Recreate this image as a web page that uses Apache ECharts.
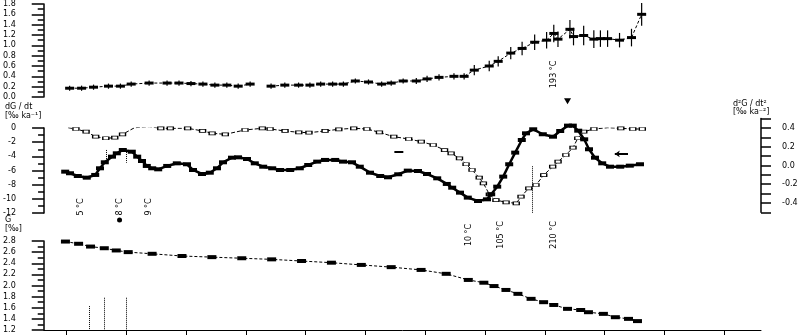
<!DOCTYPE html>
<html><head><meta charset="utf-8">
<script src="https://cdn.jsdelivr.net/npm/echarts@6/dist/echarts.min.js"></script>
<style>html,body{margin:0;padding:0;background:#fff}#c{width:809px;height:335px}</style>
</head><body><div id="c"></div>
<script>
// ---------- data ----------
const xTicks = [0,1,2,3,4,5,6,7,8,9,10,11];

const topX   = [0.05,0.25,0.45,0.70,0.90,1.08,1.38,1.68,1.88,2.08,2.28,2.48,2.68,2.87,3.07,3.25,3.42,3.65,3.88,4.07,4.25,4.45,4.63,4.83,5.05,5.27,5.43,5.63,5.85,6.03,6.23,6.48,6.65,6.82,7.07,7.22,7.43,7.62,7.83,8.03,8.15,8.22,8.42,8.48,8.65,8.82,8.93,9.05,9.25,9.45,9.62];
const topY   = [0.17,0.17,0.19,0.21,0.21,0.25,0.27,0.27,0.27,0.26,0.25,0.23,0.23,0.21,0.25,null,0.21,0.23,0.23,0.23,0.25,0.25,0.25,0.31,0.29,0.25,0.27,0.31,0.31,0.35,0.38,0.40,0.40,0.52,0.60,0.69,0.85,0.94,1.06,1.10,1.23,1.12,1.31,1.17,1.19,1.12,1.13,1.13,1.10,1.15,1.60];
const topErr = [0.05,0.05,0.05,0.05,0.05,0.05,0.05,0.05,0.05,0.05,0.05,0.05,0.05,0.05,0.05,null,0.05,0.05,0.05,0.05,0.05,0.05,0.05,0.05,0.05,0.05,0.05,0.05,0.06,0.06,0.06,0.06,0.06,0.10,0.10,0.10,0.12,0.13,0.15,0.16,0.17,0.15,0.18,0.17,0.19,0.17,0.16,0.16,0.14,0.17,0.22];

const rateX = [0.02,0.15,0.32,0.48,0.65,0.80,0.93,1.13,1.38,1.57,1.73,2.02,2.27,2.43,2.65,2.98,3.27,3.40,3.65,3.88,4.05,4.32,4.55,4.80,5.02,5.23,5.47,5.72,5.93,6.13,6.32,6.43,6.57,6.68,6.78,6.90,6.97,7.07,7.18,7.35,7.52,7.60,7.73,7.85,7.98,8.13,8.22,8.35,8.47,8.55,8.65,8.82,9.05,9.27,9.47,9.63];
const rateY = [0.04,-0.14,-0.52,-1.23,-1.45,-1.37,-0.89,0.04,0.18,-0.04,-0.04,-0.04,-0.42,-0.75,-0.89,-0.28,-0.04,-0.14,-0.42,-0.61,-0.66,-0.42,-0.18,-0.04,-0.14,-0.61,-1.23,-1.55,-1.93,-2.40,-3.11,-3.57,-4.28,-5.12,-5.93,-7.02,-7.81,-9.36,-10.17,-10.49,-10.63,-9.70,-8.51,-8.05,-6.64,-5.46,-4.76,-3.81,-2.78,-1.45,-0.52,-0.14,0.04,-0.04,-0.14,-0.14];

const accX = [0.02,0.10,0.23,0.38,0.52,0.60,0.68,0.80,0.88,0.98,1.13,1.22,1.30,1.38,1.47,1.57,1.72,1.88,2.05,2.15,2.30,2.43,2.55,2.65,2.80,2.90,3.05,3.18,3.32,3.47,3.60,3.77,3.93,4.07,4.22,4.35,4.52,4.65,4.80,4.93,5.10,5.27,5.40,5.57,5.73,5.90,6.05,6.22,6.38,6.47,6.60,6.73,6.90,7.05,7.12,7.22,7.32,7.42,7.52,7.63,7.70,7.82,7.98,8.15,8.27,8.40,8.48,8.57,8.67,8.75,8.85,8.97,9.10,9.27,9.43,9.60];
const accY = [-0.066,-0.083,-0.112,-0.130,-0.101,-0.030,0.034,0.094,0.130,0.165,0.147,0.094,0.048,-0.005,-0.030,-0.041,-0.005,0.023,0.013,-0.048,-0.091,-0.077,-0.030,0.034,0.083,0.087,0.069,0.023,-0.013,-0.030,-0.048,-0.048,-0.030,0.005,0.041,0.059,0.059,0.041,0.034,-0.013,-0.077,-0.112,-0.126,-0.094,-0.055,-0.059,-0.091,-0.137,-0.197,-0.237,-0.290,-0.343,-0.379,-0.361,-0.307,-0.226,-0.119,0.013,0.137,0.272,0.343,0.386,0.333,0.307,0.368,0.425,0.425,0.371,0.279,0.173,0.083,0.023,-0.013,-0.013,-0.002,0.013];

const lvlX = [-0.02,0.20,0.40,0.63,0.83,1.03,1.43,1.93,2.43,2.93,3.43,3.93,4.43,4.93,5.43,5.93,6.35,6.72,6.98,7.15,7.35,7.55,7.77,7.98,8.15,8.38,8.60,8.73,8.98,9.18,9.40,9.55];
const lvlY = [2.79,2.75,2.70,2.67,2.63,2.60,2.57,2.53,2.51,2.49,2.47,2.44,2.41,2.37,2.33,2.28,2.21,2.10,2.05,1.99,1.92,1.85,1.76,1.70,1.65,1.58,1.56,1.52,1.49,1.43,1.40,1.36];

const notesLeft  = [[0.23,'5 °C'],[0.88,'8 °C'],[1.37,'9 °C']];
const notesRight = [[6.73,'10 °C'],[7.27,'105 °C'],[8.15,'210 °C']];
const noteTop    = [8.15,'193 °C'];

// ---------- chart ----------
const F = 'DejaVu Sans';
const X0 = -23/60, X1 = 697/60;
const pair = (xs, ys) => xs.map((x,i) => [x, ys[i] === null ? '-' : ys[i]]);

function xAxis(g, show){
  return {type:'value', gridIndex:g, min:X0, max:X1, show:show,
    axisLine:{show:show, onZero:false, lineStyle:{color:'#000', width:1}},
    axisTick:{show:show, customValues:xTicks, length:6, inside:false, lineStyle:{color:'#000'}},
    axisLabel:{show:false}, splitLine:{show:false}};
}
function yAxis(g, min, max, interval, pos, fmt, minor, margin, tickLen){
  return {type:'value', gridIndex:g, min:min, max:max, interval:interval, position:pos,
    axisLine:{show:true, onZero:false, lineStyle:{color:'#000', width:1.5}},
    axisTick:{show:true, length:tickLen, lineStyle:{color:'#000', width:1.5}},
    minorTick:{show:minor, splitNumber:2, length:6, lineStyle:{color:'#000', width:1.5}},
    axisLabel:{color:'#000', fontFamily:F, fontSize:8, margin:margin, formatter:fmt},
    splitLine:{show:false}, minorSplitLine:{show:false}};
}
const mlStyle = {type:'dotted', color:'#000', width:1};
const vline = (x, y1, y2) => [{coord:[x,y1], symbol:'none'},{coord:[x,y2], symbol:'none'}];
const txt = (t, l, tp) => ({type:'text', left:l, top:tp, style:{text:t, font:'8px DejaVu Sans', fill:'#000'}});

const option = {
  animation:false,
  backgroundColor:'#fff',
  grid:[
    {left:41, right:48, top:3, height:94},
    {left:41, right:48, top:128, height:85},
    {left:41, right:48, top:118.6, height:93.75},
    {left:41, right:48, top:241, height:89}
  ],
  xAxis:[xAxis(0,false), xAxis(1,false), xAxis(2,false), xAxis(3,true)],
  yAxis:[
    yAxis(0, 0, 1.8, 0.2, 'left', v => v.toFixed(1), true, 28, 12),
    yAxis(1, -12, 0, 2, 'left', v => String(v), true, 28, 12),
    yAxis(2, -0.5, 0.5, 0.1, 'right', v => (Math.round(v*10) % 2 === 0 ? v.toFixed(1) : ''), false, 21, 10),
    yAxis(3, 1.2, 2.8, 0.2, 'left', v => v.toFixed(1), true, 28, 12)
  ],
  series:[
    {type:'line', xAxisIndex:0, yAxisIndex:0, data:pair(topX, topY), connectNulls:false,
      symbol:'rect', symbolSize:[9,3], itemStyle:{color:'#000'},
      lineStyle:{color:'#000', width:1, type:[3,2]}
    },
    {type:'custom', xAxisIndex:0, yAxisIndex:0, silent:true,
      data:topX.map((x,i)=>[x, topY[i], topErr[i]]).filter(d=>d[1]!==null),
      encode:{x:0, y:1},
      renderItem:(params, api) => {
        const x = api.value(0), y = api.value(1), e = api.value(2);
        const a = api.coord([x, y+e]), b = api.coord([x, y-e]);
        return {type:'line', shape:{x1:a[0], y1:a[1], x2:b[0], y2:b[1]}, style:{stroke:'#000', lineWidth:1.2}};
      }
    },
    {type:'line', xAxisIndex:1, yAxisIndex:1, data:pair(rateX, rateY),
      symbol:'rect', symbolSize:[6,3], itemStyle:{color:'#fff', borderColor:'#000', borderWidth:1},
      lineStyle:{color:'#000', width:1, type:[4,2]},
      markLine:{silent:true, symbol:'none', label:{show:false}, lineStyle:mlStyle, data:[
        vline(7.78,-5.4,-12), vline(0.65,-3.1,-4.9), vline(1.0,-3.1,-4.9),
        [{coord:[5.48,-3.39], symbol:'none', lineStyle:{type:'solid', width:2}},{coord:[5.63,-3.39], symbol:'none'}]
      ]}
    },
    {type:'line', xAxisIndex:2, yAxisIndex:2, data:pair(accX, accY),
      symbol:'rect', symbolSize:[8,4], itemStyle:{color:'#000'},
      lineStyle:{color:'#000', width:2.5},
      markLine:{silent:true, label:{show:false}, data:[
        [{coord:[9.18,0.123], symbol:'arrow', symbolSize:5, lineStyle:{color:'#000', width:2, type:'solid'}},{coord:[9.40,0.123], symbol:'none'}]
      ]}
    },
    {type:'line', xAxisIndex:3, yAxisIndex:3, data:pair(lvlX, lvlY),
      symbol:'rect', symbolSize:[9,4], itemStyle:{color:'#000'},
      lineStyle:{color:'#000', width:1, type:[3,2]},
      markLine:{silent:true, symbol:'none', label:{show:false}, lineStyle:mlStyle, data:[
        vline(0.38,1.63,1.2), vline(0.63,1.78,1.2), vline(1.0,1.78,1.2)
      ]}
    }
  ]
};
const chart = echarts.init(document.getElementById('c'), null, {renderer:'canvas'});
chart.setOption(option);

// annotations placed through the axes' own scales
const px = (g, pt) => chart.convertToPixel({xAxisIndex:g, yAxisIndex:g}, pt);
const rot = (t, p) => ({type:'text', x:p[0], y:p[1], rotation:Math.PI/2,
  style:{text:t, font:'8px DejaVu Sans', fill:'#000', align:'center', verticalAlign:'middle'}});
const g = [
  txt('dG / dt', 5, 103), txt('[‰ ka⁻¹]', 5, 112),
  txt('d²G / dt²', 733, 100), txt('[‰ ka⁻²]', 733, 108),
  txt('G', 5, 216), txt('[‰]', 5, 225),
  rot(noteTop[1], px(0, [noteTop[0], 0.44]))
];
notesLeft.forEach(n => g.push(rot(n[1], px(1, [n[0], -11.15]))));
notesRight.forEach(n => g.push(rot(n[1], px(1, [n[0], -15.1]))));
const dot = px(1, [0.88, -13.0]);
g.push({type:'circle', shape:{cx:dot[0], cy:dot[1], r:2.5}, style:{fill:'#000'}});
const tri = px(0, [8.38, -0.08]);
g.push({type:'polygon', shape:{points:[[tri[0]-3.5,tri[1]-3],[tri[0]+3.5,tri[1]-3],[tri[0],tri[1]+3]]}, style:{fill:'#000'}});
chart.setOption({graphic:g});
</script></body></html>
